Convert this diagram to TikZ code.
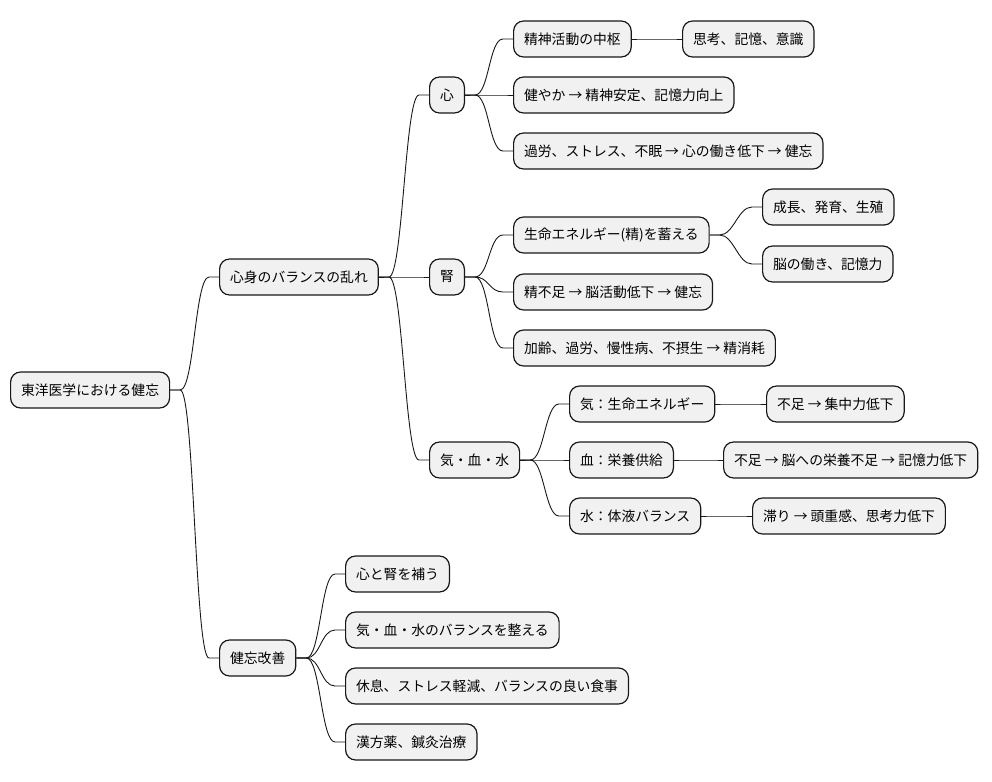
\documentclass[tikz,border=0pt]{standalone}
\usepackage{fontspec}
\setmainfont{Noto Sans CJK JP}
\definecolor{boxfill}{HTML}{F1F1F1}
\definecolor{boxline}{HTML}{181818}
\begin{document}
\begin{tikzpicture}[x=1pt,y=-1pt]
      \tikzset{every node/.style={draw=boxline, fill=boxfill, line width=1.2pt, rounded corners=10pt,
          minimum height=36pt, inner xsep=10.5pt, inner ysep=0pt, anchor=west,
          font=\fontsize{13.8}{16}\selectfont}}
      \useasboundingbox (0,0) rectangle (992,781);

      \node (root) at (10,390) {東洋医学における健忘};
      \node (mind) at (219,277) {心身のバランスの乱れ};
      \node (cure) at (219,658) {健忘改善};

      % 心
      \node (heart) at (429,95) {心};
      \node (h1) at (513,39) {精神活動の中枢};
      \node (h1a) at (682,39) {思考、記憶、意識};
      \node (h2) at (513,95) {健やか → 精神安定、記憶力向上};
      \node (h3) at (513,151) {過労、ストレス、不眠 → 心の働き低下 → 健忘};

      % 腎
      \node (kidney) at (429,277) {腎};
      \node (k1) at (513,235) {生命エネルギー(精)を蓄える};
      \node (k1a) at (762,207) {成長、発育、生殖};
      \node (k1b) at (762,264) {脳の働き、記憶力};
      \node (k2) at (513,292) {精不足 → 脳活動低下 → 健忘};
      \node (k3) at (513,348) {加齢、過労、慢性病、不摂生 → 精消耗};

      % 気・血・水
      \node (qbw) at (429,460) {気・血・水};
      \node (q1) at (569,404) {気：生命エネルギー};
      \node (q1a) at (766,404) {不足 → 集中力低下};
      \node (q2) at (569,460) {血：栄養供給};
      \node (q2a) at (723,460) {不足 → 脳への栄養不足 → 記憶力低下};
      \node (q3) at (569,516) {水：体液バランス};
      \node (q3a) at (752,516) {滞り → 頭重感、思考力低下};

      % 健忘改善
      \node (c1) at (345,574) {心と腎を補う};
      \node (c2) at (345,630) {気・血・水のバランスを整える};
      \node (c3) at (345,686) {休息、ストレス軽減、バランスの良い食事};
      \node (c4) at (345,742) {漢方薬、鍼灸治療};

      \foreach \a/\b in {root/mind, root/cure, mind/heart, mind/kidney, mind/qbw,
          heart/h1, heart/h2, heart/h3, h1/h1a,
          kidney/k1, kidney/k2, kidney/k3, k1/k1a, k1/k1b,
          qbw/q1, qbw/q2, qbw/q3, q1/q1a, q2/q2a, q3/q3a,
          cure/c1, cure/c2, cure/c3, cure/c4} {
        \draw[boxline, line width=0.9pt] (\a.east) -- ++(10,0)
          .. controls +(14,0) and +(-14,0) .. ([xshift=-10pt]\b.west) -- (\b.west);
      }
    \end{tikzpicture}
\end{document}
